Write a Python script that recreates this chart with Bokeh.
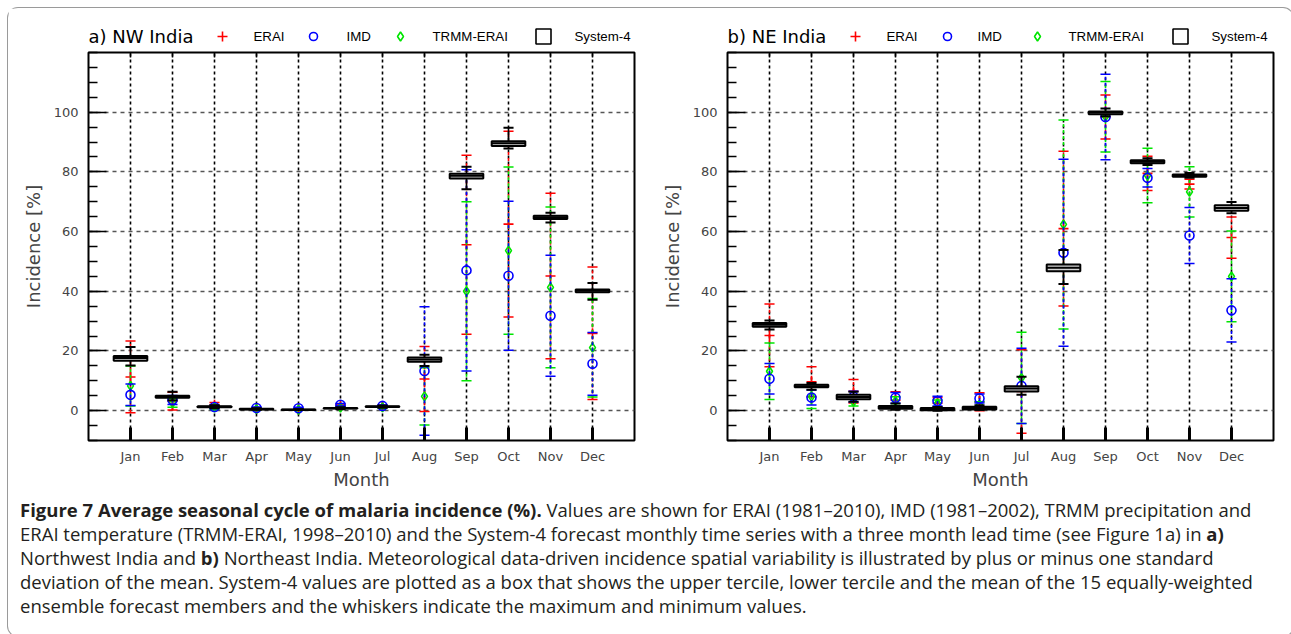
from bokeh.plotting import figure
from bokeh.models import FixedTicker, Range1d, Div
from bokeh.layouts import row, column
from bokeh.embed import file_html
from bokeh.resources import INLINE
from bokeh.core.properties import value

months = ["Jan", "Feb", "Mar", "Apr", "May", "Jun", "Jul", "Aug", "Sep", "Oct", "Nov", "Dec"]
month_x = list(range(1, 13))
y_major = [0, 20, 40, 60, 80, 100]
y_minor = list(range(-10, 121, 5))

# ---- a) NW India ----
nw_erai_mean = [11.3, 3.2, 2.0, 0.6, 0.4, 1.8, 1.4, 10.6, 55.6, 62.5, 45.1, 25.9]
nw_erai_sd = [12.0, 3.0, 0.7, 0.3, 0.2, 0.4, 0.3, 10.9, 30.0, 31.1, 27.7, 22.2]
nw_imd_mean = [5.3, 3.6, 1.2, 0.9, 0.8, 2.0, 1.6, 13.3, 47.0, 45.2, 31.8, 15.7]
nw_imd_sd = [3.6, 1.5, 0.5, 0.3, 0.3, 0.4, 0.3, 21.5, 33.7, 25.0, 20.3, 10.5]
nw_trmm_mean = [8.3, 2.6, 1.0, 0.5, 0.3, 1.0, 1.1, 4.8, 40.0, 53.6, 41.3, 21.1]
nw_trmm_sd = [6.7, 1.5, 0.5, 0.3, 0.2, 0.4, 0.3, 9.6, 30.0, 28.0, 26.9, 16.5]
nw_s4_max = [21.3, 6.3, 1.8, 0.8, 0.5, 1.1, 1.7, 18.7, 81.7, 94.8, 66.3, 42.8]
nw_s4_upper = [18.3, 5.0, 1.5, 0.6, 0.4, 0.9, 1.45, 17.8, 79.4, 90.3, 65.3, 40.6]
nw_s4_mean = [17.6, 4.7, 1.3, 0.5, 0.3, 0.8, 1.3, 17.1, 78.7, 89.6, 64.8, 40.2]
nw_s4_lower = [16.7, 4.3, 1.1, 0.4, 0.25, 0.7, 1.2, 16.4, 77.8, 88.7, 64.2, 39.7]
nw_s4_min = [15.1, 3.5, 0.8, 0.3, 0.2, 0.5, 1.0, 15.0, 74.2, 87.8, 63.0, 37.2]

# ---- b) NE India ----
ne_erai_mean = [25.2, 9.7, 6.5, 3.5, 2.5, 3.0, 6.4, 61.0, 98.4, 79.5, 75.9, 58.0]
ne_erai_sd = [10.5, 5.0, 3.9, 2.8, 1.9, 3.0, 14.0, 25.9, 7.4, 5.7, 1.6, 6.9]
ne_imd_mean = [10.7, 4.4, 4.7, 4.3, 3.2, 4.1, 8.3, 52.9, 98.4, 78.0, 58.7, 33.6]
ne_imd_sd = [5.1, 2.5, 1.8, 1.8, 1.6, 1.5, 12.6, 31.3, 14.3, 3.1, 9.4, 10.6]
ne_trmm_mean = [13.2, 4.7, 3.0, 3.2, 2.4, 2.0, 11.0, 62.4, 98.5, 78.8, 73.3, 45.0]
ne_trmm_sd = [9.5, 4.0, 1.4, 1.5, 1.2, 1.0, 15.3, 35.0, 11.8, 9.1, 8.4, 15.2]
ne_s4_max = [30.2, 9.3, 6.3, 2.4, 1.2, 1.8, 11.4, 53.8, 101.2, 84.6, 79.6, 69.9]
ne_s4_upper = [29.4, 8.7, 5.3, 1.6, 0.9, 1.3, 8.2, 49.0, 100.2, 83.9, 79.1, 68.8]
ne_s4_mean = [28.8, 8.2, 4.6, 1.1, 0.5, 0.9, 7.4, 47.9, 99.9, 83.4, 78.8, 67.9]
ne_s4_lower = [28.1, 7.8, 3.8, 0.6, 0.1, 0.4, 6.4, 46.7, 99.3, 82.9, 78.4, 67.0]
ne_s4_min = [27.2, 7.0, 3.0, 0.3, 0.0, 0.2, 5.3, 42.4, 98.6, 82.3, 78.0, 66.1]

series_labels = ["ERAI", "IMD", "TRMM-ERAI", "System-4"]
RED, BLUE, GREEN = "#ff0000", "#0000ff", "#00e600"

TICK_FONT = "DejaVu Sans"
KEY_FONT = "Liberation Sans"

Y_MIN, Y_MAX = -10, 120
FRAME_W, FRAME_H = 546, 388
PX = (Y_MAX - Y_MIN) / FRAME_H  # data units per screen pixel (vertical)
HEAD_H = 40


def errorbars(p, xs, mean, sd, color, marker, msize, dash_offset):
    lo = [m - s for m, s in zip(mean, sd)]
    hi = [m + s for m, s in zip(mean, sd)]
    p.segment(x0=xs, x1=xs, y0=lo, y1=hi, line_color=color, line_width=1.6,
              line_dash="3 3", line_dash_offset=dash_offset)
    cw = 0.12
    for ends in (lo, hi):
        p.segment(x0=[x - cw for x in xs], x1=[x + cw for x in xs], y0=ends, y1=ends,
                  line_color=color, line_width=1.5)
    p.scatter(x=xs, y=mean, marker=marker, size=msize, line_color=color,
              fill_color=None, line_width=1.6)


def make_header(title, key_pos, left_border, right_border):
    # header strip whose frame lines up with the panel frame below (pixel coordinates)
    h = figure(frame_width=FRAME_W, frame_height=HEAD_H, x_range=Range1d(0, FRAME_W),
               y_range=Range1d(0, HEAD_H), x_axis_type=None, y_axis_type=None,
               output_backend="svg", toolbar_location=None,
               min_border_left=left_border, min_border_right=right_border,
               min_border_top=0, min_border_bottom=0)
    h.grid.visible = False
    h.outline_line_color = None
    h.background_fill_color = "white"
    h.border_fill_color = "white"
    h.text(x=[0], y=[12], text=[title], text_font=value(TICK_FONT),
           text_font_size=value("18px"), text_baseline=value("middle"), text_color="black")
    markers = [("cross", RED, 10), ("circle", BLUE, 8), ("diamond", GREEN, 9), ("square", "black", 15)]
    for (mk, col, sz), lab, (mx, tx) in zip(markers, series_labels, key_pos):
        h.scatter(x=[mx], y=[12], marker=mk, size=sz, line_color=col, fill_color=None, line_width=1.6)
        h.text(x=[tx], y=[12], text=[lab], text_font=value(KEY_FONT), text_font_size=value("13.3px"),
               text_baseline=value("middle"), text_color="black")
    return h


def make_panel(erai, imd, trmm, s4, left_border, right_border):
    p = figure(frame_width=FRAME_W, frame_height=FRAME_H, x_range=Range1d(0, 13),
               y_range=Range1d(Y_MIN, Y_MAX),
               output_backend="svg", toolbar_location=None,
               min_border_left=left_border, min_border_right=right_border,
               min_border_top=4, min_border_bottom=50)
    p.outline_line_color = "black"
    p.outline_line_width = 2
    p.background_fill_color = "white"
    p.border_fill_color = "white"

    xa = p.xaxis[0]
    xa.ticker = FixedTicker(ticks=month_x)
    xa.major_label_overrides = {m: name for m, name in zip(month_x, months)}
    xa.axis_label = "Month"
    xa.axis_line_color = None
    xa.major_tick_in = 13
    xa.major_tick_out = 0
    xa.major_tick_line_width = 3
    xa.minor_tick_line_color = None
    xa.major_label_standoff = 8
    xa.axis_label_standoff = 2
    xa.major_label_text_font = TICK_FONT
    xa.major_label_text_font_size = "13px"
    xa.axis_label_text_font = TICK_FONT
    xa.axis_label_text_font_size = "18px"
    xa.axis_label_text_font_style = "normal"

    ya = p.yaxis[0]
    ya.ticker = FixedTicker(ticks=y_major, minor_ticks=y_minor)
    ya.axis_label = "Incidence [%]"
    ya.axis_line_color = None
    ya.major_tick_in = 18
    ya.major_tick_out = 0
    ya.minor_tick_in = 9
    ya.minor_tick_out = 0
    ya.major_tick_line_width = 1.5
    ya.minor_tick_line_width = 1.5
    ya.major_label_standoff = 10
    ya.axis_label_standoff = 7
    ya.major_label_text_font = TICK_FONT
    ya.major_label_text_font_size = "13px"
    ya.axis_label_text_font = TICK_FONT
    ya.axis_label_text_font_size = "18px"
    ya.axis_label_text_font_style = "normal"

    p.xgrid.grid_line_color = "black"
    p.xgrid.grid_line_width = 1.6
    p.xgrid.grid_line_dash = "3 3"
    p.ygrid.grid_line_color = "#555555"
    p.ygrid.grid_line_width = 1.4
    p.ygrid.grid_line_dash = "4 4"

    # small inward tick marks along the top edge
    p.segment(x0=month_x, x1=month_x, y0=[Y_MAX] * 12, y1=[Y_MAX - 5 * PX] * 12,
              line_color="black", line_width=1.5)

    errorbars(p, month_x, erai[0], erai[1], RED, "cross", 10, 0)
    errorbars(p, month_x, trmm[0], trmm[1], GREEN, "diamond", 9, 2)
    errorbars(p, month_x, imd[0], imd[1], BLUE, "circle", 9, 4)

    smax, sup, smean, slow, smin = s4
    bw = 0.4
    cw = 0.12
    p.segment(x0=month_x, x1=month_x, y0=smin, y1=smax, line_color="black", line_width=1.6)
    for ends in (smin, smax):
        p.segment(x0=[x - cw for x in month_x], x1=[x + cw for x in month_x], y0=ends, y1=ends,
                  line_color="black", line_width=2)
    p.quad(left=[x - bw for x in month_x], right=[x + bw for x in month_x], bottom=slow, top=sup,
           fill_color="#d4d4d4", line_color="black", line_width=2)
    p.segment(x0=[x - bw for x in month_x], x1=[x + bw for x in month_x], y0=smean, y1=smean,
              line_color="black", line_width=2)
    return p


p1 = make_panel((nw_erai_mean, nw_erai_sd), (nw_imd_mean, nw_imd_sd), (nw_trmm_mean, nw_trmm_sd),
                (nw_s4_max, nw_s4_upper, nw_s4_mean, nw_s4_lower, nw_s4_min), 80, 20)
p2 = make_panel((ne_erai_mean, ne_erai_sd), (ne_imd_mean, ne_imd_sd), (ne_trmm_mean, ne_trmm_sd),
                (ne_s4_max, ne_s4_upper, ne_s4_mean, ne_s4_lower, ne_s4_min), 73, 10)

h1 = make_header("a) NW India", [(134, 165), (225, 258), (312, 344), (455, 486)], 80, 20)
h2 = make_header("b) NE India", [(128, 159), (220, 250), (310, 341), (453, 484)], 73, 10)

caption = Div(
    text=("<b>Figure 7 Average seasonal cycle of malaria incidence (%).</b> Values are shown for ERAI "
          "(1981–2010), IMD (1981–2002), TRMM precipitation and<br>"
          "ERAI temperature (TRMM-ERAI, 1998–2010) and the System-4 forecast monthly time series with a "
          "three month lead time (see Figure 1a) in <b>a)</b><br>"
          "Northwest India and <b>b)</b> Northeast India. Meteorological data-driven incidence spatial "
          "variability is illustrated by plus or minus one standard<br>"
          "deviation of the mean. System-4 values are plotted as a box that shows the upper tercile, "
          "lower tercile and the mean of the 15 equally-weighted<br>"
          "ensemble forecast members and the whiskers indicate the maximum and minimum values."),
    width=1275, height=134,
    styles={"font-family": "Open Sans", "font-size": "18.5px", "line-height": "24px",
            "color": "#231f20", "white-space": "nowrap", "padding": "1px 0 0 7px",
            "box-sizing": "border-box"})

layout = column(row(column(h1, p1), column(h2, p2)), caption,
                styles={"box-shadow": "0 0 0 1px #9a9a9a", "border-radius": "10px",
                        "background": "white", "margin": "8px"})

open("out.html", "w").write(file_html(layout, INLINE))
